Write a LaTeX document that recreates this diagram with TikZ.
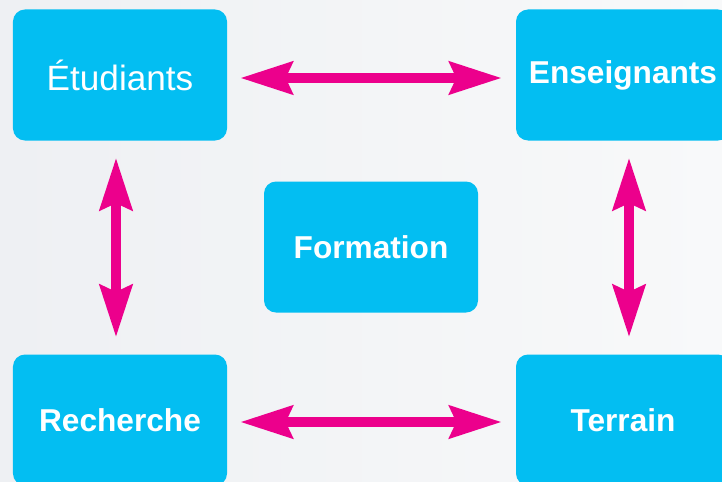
\documentclass[tikz,border=0pt]{standalone}
\usepackage{fontspec}
\setmainfont{Liberation Sans}
\usepackage{xcolor}
\usepackage{tikz}
\usetikzlibrary{arrows.meta,positioning}
\definecolor{boxblue}{RGB}{3,190,242}
\definecolor{linkpink}{RGB}{236,0,140}
\definecolor{bgleft}{RGB}{238,240,243}
\definecolor{bgright}{RGB}{248,249,250}
\tikzset{
	on grid,
	>={Stealth[length=1.56cm,width=0.96cm,inset=0.2cm]}, % long thin heads
	block/.style={fill=boxblue, text=white, rounded corners=0.36cm,
		minimum width=6.42cm, minimum height=3.93cm,
		font=\fontsize{27}{32}\selectfont\bfseries},
	link/.style={<->, draw=linkpink, line width=0.3cm,
		shorten <=0.39cm, shorten >=0.42cm},
}
\begin{document}
\begin{tikzpicture}[x=0.03cm, y=-0.03cm]

      \fill[left color=bgleft, right color=bgright] (0,0) rectangle (722,482);
      \useasboundingbox (0,0) rectangle (722,482);

      \node[block, font=\fontsize{30}{34}\selectfont] (Etu) at (120,75) {\raisebox{-0.08cm}{Étudiants}};
      \node[block, right=15.09cm of Etu] (Ens) {Enseignants};
      \node[block, below=10.35cm of Etu] (Rech) {Recherche};
      \node[block, right=15.09cm of Rech] (Ter) {Terrain};
      \node[block, below right=5.16cm and 7.53cm of Etu] (Form) {Formation};

      \draw[link] ([yshift=-0.09cm]Etu.east) -- ([yshift=-0.09cm]Ens.west);
      \draw[link] ([yshift=-0.06cm]Rech.east) -- ([yshift=-0.06cm]Ter.west);

      \draw[link, shorten <=0.51cm, shorten >=0.51cm] ([xshift=-0.12cm]Etu.south) -- ([xshift=-0.12cm]Rech.north);
      \draw[link, shorten <=0.51cm, shorten >=0.51cm] ([xshift=0.18cm]Ens.south) -- ([xshift=0.18cm]Ter.north);
    \end{tikzpicture}
\end{document}
